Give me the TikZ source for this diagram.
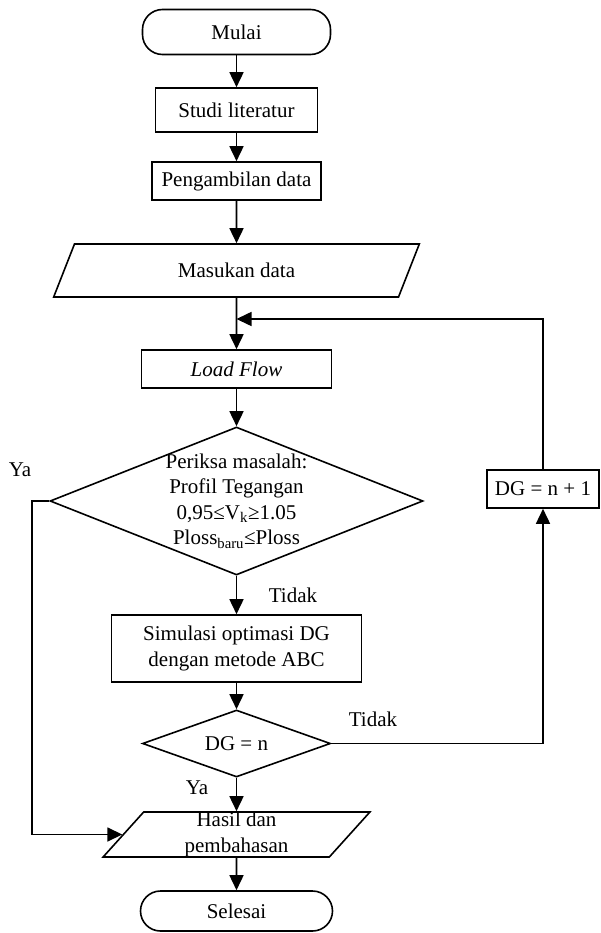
\documentclass[tikz,border=0pt]{standalone}
\usepackage{fontspec}
\setmainfont{Liberation Serif}
\usetikzlibrary{shapes.geometric,arrows.meta}

\begin{document}
\begin{tikzpicture}[x=1pt,y=-1pt,line width=1.6pt,
    font=\fontsize{21}{25.5}\selectfont,
    >={Triangle[length=15pt,width=14pt]},
    terminal/.style={draw,rectangle,rounded corners=20pt,inner sep=0pt},
    process/.style={draw,rectangle,inner sep=0pt,align=center},
    io/.style={draw,trapezium,trapezium left angle=63,trapezium right angle=117,
      trapezium stretches=true,inner sep=0pt,align=center},
    decision/.style={draw,diamond,shape aspect=2.5,inner sep=-8pt,align=center}]
    \useasboundingbox (0,0) rectangle (600,933);
    % main column
    \node[terminal,minimum width=188pt,minimum height=45pt] (mulai) at (236.5,32) {Mulai};
    \node[process,minimum width=162pt,minimum height=44pt] (studi) at (236.5,110) {Studi literatur};
    \node[process,minimum width=169pt,minimum height=38pt] (ambil) at (236.5,181) {Pengambilan data};
    \node[io,minimum width=366pt,minimum height=53pt] (masukan) at (236.5,270.5) {Masukan data};
    \node[process,minimum width=190pt,minimum height=38pt] (loadflow) at (236.5,369) {\textit{Load Flow}};
    \node[decision,minimum width=373pt,minimum height=148pt] (periksa) at (236.5,501)
      {Periksa masalah:\\Profil Tegangan\\0,95≤V\textsubscript{k}≥1.05\\Ploss\textsubscript{baru}≤Ploss};
    \node[process,minimum width=250pt,minimum height=67pt] (simulasi) at (236.5,648.5)
      {Simulasi optimasi DG\\dengan metode ABC};
    \node[decision,minimum width=188pt,minimum height=67pt] (dgn) at (236.5,743.5) {DG = n};
    \node[io,minimum width=267pt,minimum height=45pt] (hasil) at (236.5,834.5) {Hasil dan\\pembahasan};
    \node[terminal,minimum width=192pt,minimum height=40pt] (selesai) at (236.5,911) {Selesai};
    % loop back
    \node[process,minimum width=112pt,minimum height=38pt] (dgplus) at (543,489) {DG = n + 1};
    \coordinate (balik) at (236.5,319);
    % labels
    \node (ya1) at (20,470) {Ya};
    \node (tidak1) at (293,595) {Tidak};
    \node (ya2) at (197,788) {Ya};
    \node (tidak2) at (373,719) {Tidak};
    % connectors
    \draw[->] (mulai) -- (studi);
    \draw[->] (studi) -- (ambil);
    \draw[->] (ambil) -- (masukan);
    \draw[->] (masukan) -- (loadflow);
    \draw[->] (loadflow) -- (periksa);
    \draw[->] (periksa) -- (simulasi);
    \draw[->] (simulasi) -- (dgn);
    \draw[->] (dgn) -- (hasil);
    \draw[->] (hasil) -- (selesai);
    \draw[->] (periksa.west) -- ++(-17,0) |- (hasil.west); % ya
    \draw[->] (dgn.east) -| (dgplus.south); % tidak
    \draw[->] (dgplus.north) |- (balik); % back to load flow
\end{tikzpicture}
\end{document}
